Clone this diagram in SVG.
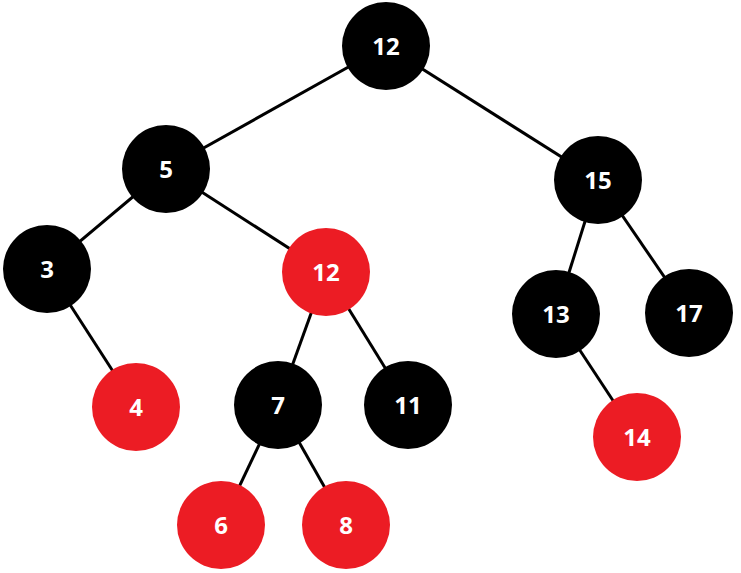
<svg xmlns="http://www.w3.org/2000/svg" width="741" height="573" viewBox="0 0 741 573">
<style>
.b{fill:#000}
.r{fill:#ec1c24}
.e{stroke:#000;stroke-width:3;fill:none}
text{font-family:"Open Sans","Liberation Sans",sans-serif;font-size:24px;font-weight:700;fill:#fff;text-anchor:middle;dominant-baseline:central}
</style>
<rect width="741" height="573" fill="#fff"/>
<g id="edges" class="e">
<line x1="386" y1="46" x2="166" y2="169"/>
<line x1="386" y1="46" x2="598" y2="180"/>
<line x1="166" y1="169" x2="47" y2="269"/>
<line x1="166" y1="169" x2="326" y2="272"/>
<line x1="47" y1="269" x2="136" y2="407"/>
<line x1="326" y1="272" x2="278" y2="405"/>
<line x1="326" y1="272" x2="408" y2="405"/>
<line x1="278" y1="405" x2="221" y2="525"/>
<line x1="278" y1="405" x2="346" y2="525"/>
<line x1="598" y1="180" x2="556" y2="314"/>
<line x1="598" y1="180" x2="689" y2="313"/>
<line x1="556" y1="314" x2="637" y2="437"/>
</g>
<g id="n12"><circle class="b" cx="386" cy="46" r="44"/><text x="386" y="45">12</text></g>
<g id="n5"><circle class="b" cx="166" cy="169" r="44"/><text x="166" y="168">5</text></g>
<g id="n15"><circle class="b" cx="598" cy="180" r="44"/><text x="598" y="179">15</text></g>
<g id="n3"><circle class="b" cx="47" cy="269" r="44"/><text x="47" y="268">3</text></g>
<g id="n12r"><circle class="r" cx="326" cy="272" r="44"/><text x="326" y="271">12</text></g>
<g id="n13"><circle class="b" cx="556" cy="314" r="44"/><text x="556" y="313">13</text></g>
<g id="n17"><circle class="b" cx="689" cy="313" r="44"/><text x="689" y="312">17</text></g>
<g id="n4"><circle class="r" cx="136" cy="407" r="44"/><text x="136" y="406">4</text></g>
<g id="n7"><circle class="b" cx="278" cy="405" r="44"/><text x="278" y="404">7</text></g>
<g id="n11"><circle class="b" cx="408" cy="405" r="44"/><text x="408" y="404">11</text></g>
<g id="n14"><circle class="r" cx="637" cy="437" r="44"/><text x="637" y="436">14</text></g>
<g id="n6"><circle class="r" cx="221" cy="525" r="44"/><text x="221" y="524">6</text></g>
<g id="n8"><circle class="r" cx="346" cy="525" r="44"/><text x="346" y="524">8</text></g>
</svg>
